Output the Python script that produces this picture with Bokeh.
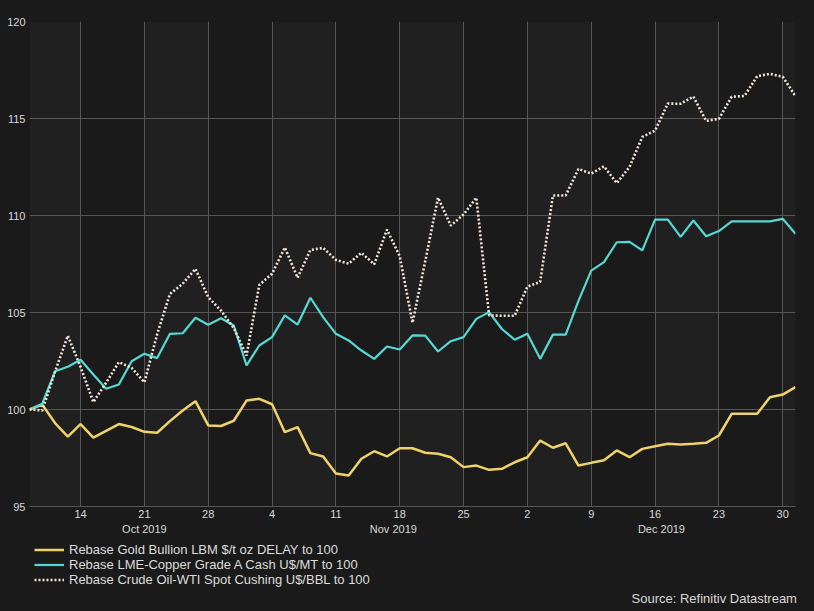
import pandas as pd
from bokeh.plotting import figure
from bokeh.layouts import column
from bokeh.models import (Range1d, FixedTicker, LinearAxis, Legend, LegendItem,
                          Label, BoxAnnotation)
from bokeh.embed import file_html
from bokeh.resources import INLINE

# ---------------- data ----------------
dates = pd.bdate_range("2019-10-08", "2019-12-31")  # 61 trading days

gold = [100.0, 100.25, 99.3, 98.6, 99.25, 98.55, 98.9, 99.25, 99.1, 98.85,
        98.8, 99.4, 99.95, 100.43, 99.18, 99.15, 99.42, 100.46, 100.55, 100.27,
        98.83, 99.09, 97.75, 97.58, 96.7, 96.6, 97.46, 97.85, 97.58, 98.0,
        98.0, 97.77, 97.72, 97.54, 97.03, 97.11, 96.89, 96.94, 97.28, 97.54,
        98.4, 98.03, 98.26, 97.11, 97.25, 97.38, 97.89, 97.54, 97.97, 98.11,
        98.23, 98.2, 98.23, 98.28, 98.66, 99.78, 99.78, 99.78, 100.63, 100.77, 101.15]

copper = [100.0, 100.3, 101.97, 102.2, 102.56, 101.8, 101.07, 101.29, 102.49, 102.87,
          102.65, 103.9, 103.93, 104.73, 104.37, 104.7, 104.33, 102.27, 103.3, 103.73,
          104.85, 104.38, 105.76, 104.76, 103.9, 103.56, 103.04, 102.61, 103.25, 103.09,
          103.82, 103.81, 102.99, 103.52, 103.73, 104.67, 105.02, 104.15, 103.6, 103.9,
          102.61, 103.86, 103.86, 105.6, 107.16, 107.6, 108.62, 108.64, 108.2, 109.79,
          109.79, 108.9, 109.74, 108.93, 109.2, 109.7, 109.7, 109.7, 109.7, 109.83, 109.06]

oil = [100.0, 99.95, 101.95, 103.8, 102.2, 100.38, 101.38, 102.44, 102.15, 101.4,
       103.88, 105.96, 106.48, 107.25, 105.79, 105.1, 104.2, 102.78, 106.42, 107.0,
       108.35, 106.79, 108.22, 108.33, 107.71, 107.52, 108.08, 107.48, 109.27, 107.9,
       104.47, 107.65, 110.92, 109.48, 110.05, 110.92, 104.85, 104.83, 104.83, 106.33,
       106.58, 111.03, 111.03, 112.4, 112.16, 112.53, 111.67, 112.5, 114.05, 114.38,
       115.77, 115.76, 116.13, 114.88, 114.98, 116.12, 116.16, 117.18, 117.3, 117.15, 116.15]

series_names = ["Rebase Gold Bullion LBM $/t oz DELAY to 100",
                "Rebase LME-Copper Grade A Cash U$/MT to 100",
                "Rebase Crude Oil-WTI Spot Cushing U$/BBL to 100"]
series_colors = ["#efd36a", "#55d9d4", "#f3e5d7"]
series_widths = [2.5, 2.2, 2.6]
series_dashes = ["solid", "solid", "2 2"]

y_ticks = [95, 100, 105, 110, 115, 120]
day_tick_labels = ["14", "21", "28", "4", "11", "18", "25", "2", "9", "16", "23", "30"]
month_labels = ["Oct 2019", "Nov 2019", "Dec 2019"]
month_positions = [9, 28.5, 49.5]
source_text = "Source: Refinitiv Datastream"

# ---------------- derived ----------------
x = list(range(len(dates)))
monday_idx = [i for i, d in enumerate(dates) if d.weekday() == 0]
series_values = [gold, copper, oil]

FONT = "Liberation Sans"
TXT = "#d8d8d8"
GRID = "#565656"
BG = "#1a1a1a"
TOTAL_W = 803

p = figure(frame_width=766, frame_height=485,
           x_range=Range1d(0, len(dates) - 1), y_range=Range1d(95, 120),
           toolbar_location=None, output_backend="svg",
           min_border_left=29, min_border_right=8, min_border_top=21,
           min_border_bottom=0,
           background_fill_color=BG, border_fill_color=BG,
           outline_line_color=None)

# alternating weekly bands
edges = [0] + monday_idx + [len(dates) - 1]
for k in range(0, len(edges) - 1, 2):
    p.add_layout(BoxAnnotation(left=edges[k], right=edges[k + 1],
                               fill_color="#202020", fill_alpha=1.0,
                               line_color=None, level="image"))

# y axis
p.yaxis.ticker = FixedTicker(ticks=y_ticks)
p.yaxis.major_label_text_font = FONT
p.yaxis.major_label_text_font_size = "11px"
p.yaxis.major_label_text_color = TXT
p.yaxis.axis_line_color = None
p.yaxis.major_tick_line_color = None
p.yaxis.minor_tick_line_color = None
p.yaxis.major_tick_out = 0
p.yaxis.major_tick_in = 0
p.yaxis.minor_tick_out = 0
p.yaxis.major_label_standoff = 4

# x axis (days)
p.xaxis.ticker = FixedTicker(ticks=monday_idx)
p.xaxis.major_label_overrides = {i: lab for i, lab in zip(monday_idx, day_tick_labels)}
p.xaxis.major_label_text_font = FONT
p.xaxis.major_label_text_font_size = "11px"
p.xaxis.major_label_text_color = TXT
p.xaxis.axis_line_color = GRID
p.xaxis.major_tick_line_color = None
p.xaxis.minor_tick_line_color = None
p.xaxis.major_tick_out = 0
p.xaxis.major_tick_in = 0
p.xaxis.minor_tick_out = 0
p.xaxis.major_label_standoff = 3

# month axis
month_axis = LinearAxis(ticker=FixedTicker(ticks=month_positions),
                        major_label_overrides={pos: lab for pos, lab in zip(month_positions, month_labels)},
                        axis_line_color=None, major_tick_line_color=None,
                        minor_tick_line_color=None, major_tick_out=0, major_tick_in=0,
                        minor_tick_out=0, major_label_standoff=2,
                        major_label_text_font=FONT, major_label_text_font_size="11px",
                        major_label_text_color=TXT)
p.add_layout(month_axis, "below")

p.xgrid.grid_line_color = GRID
p.ygrid.grid_line_color = GRID
p.xgrid.grid_line_width = 1
p.ygrid.grid_line_width = 1

for vals, col, w, dash in zip(series_values, series_colors, series_widths, series_dashes):
    p.line(x, vals, line_color=col, line_width=w, line_dash=dash)

# ---------------- legend / source strip ----------------
STRIP_H = 72
q = figure(frame_width=TOTAL_W, frame_height=STRIP_H,
           x_range=Range1d(0, TOTAL_W), y_range=Range1d(0, STRIP_H),
           x_axis_type=None, y_axis_type=None,
           toolbar_location=None, output_backend="svg",
           min_border_left=0, min_border_right=0, min_border_top=0, min_border_bottom=0,
           background_fill_color=BG, border_fill_color=BG, outline_line_color=None)
q.xgrid.visible = False
q.ygrid.visible = False

# legend proxies: same series, outside this strip's visible y range (clipped)
items = []
for name, vals, col, w, dash in zip(series_names, series_values, series_colors,
                                    series_widths, series_dashes):
    r = q.line(x, vals, line_color=col, line_width=w, line_dash=dash)
    items.append(LegendItem(label=name, renderers=[r]))

legend = Legend(items=items, location=(34, 22), orientation="vertical",
                label_text_font=FONT, label_text_font_size="13px",
                label_text_color="#dcdcdc",
                glyph_width=30, glyph_height=15, label_height=15,
                label_standoff=5, spacing=0, padding=0, margin=0,
                background_fill_alpha=0, border_line_color=None)
q.add_layout(legend)

q.add_layout(Label(x=602, y=11, x_units="screen", y_units="screen",
                   text=source_text, text_align="left", text_baseline="middle",
                   text_font=FONT, text_font_size="13px", text_color=TXT))

layout = column(p, q, spacing=0)

html = file_html(layout, INLINE)
html = html.replace("</head>", "<style>html,body{background:#1a1a1a;}</style></head>", 1)
open("out.html", "w").write(html)
